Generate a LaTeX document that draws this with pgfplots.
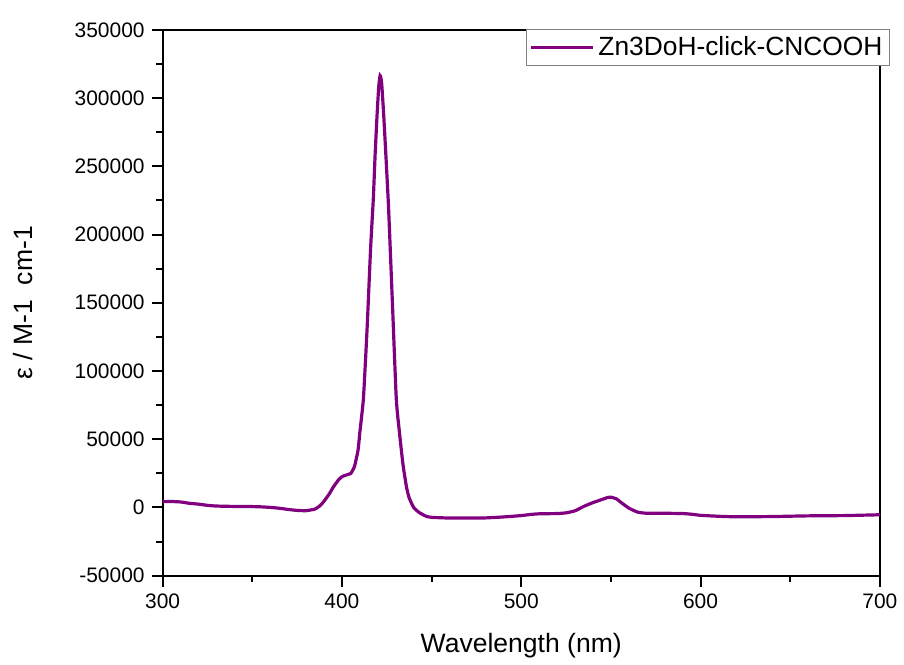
\documentclass[border=0pt]{standalone}
\usepackage{fontspec}
\setmainfont{Liberation Sans}
\usepackage{pgfplots}
\pgfplotsset{compat=1.18}
\definecolor{spec}{RGB}{128,0,128}

\begin{document}
\begin{tikzpicture}
\begin{axis}[
    scale only axis,
    width=359.5pt,
    height=273.5pt,
    xmin=300, xmax=700,
    ymin=-50000, ymax=350000,
    xtick={300,400,...,700},
    ytick={-50000,0,...,350000},
    minor x tick num=1,
    minor y tick num=1,
    tick pos=left,
    tick align=outside,
    major tick length=5.5pt,
    minor tick length=3.2pt,
    every tick/.style={black, line width=1pt},
    axis line style={line width=1.1pt},
    scaled ticks=false,
    xticklabel={\pgfmathprintnumber[fixed,1000 sep={},assume math mode=true]{\tick}},
    yticklabel={\pgfmathprintnumber[fixed,1000 sep={},assume math mode=true]{\tick}},
    tick label style={font=\fontsize{10.5pt}{12pt}\selectfont},
    xlabel={Wavelength (nm)},
    ylabel={ε / M-1\ \ cm-1},
    label style={font=\fontsize{13.3pt}{15pt}\selectfont},
    xlabel style={at={(axis description cs:0.5,-0.128)}, anchor=center},
    ylabel style={at={(axis description cs:-0.195,0.5)}, anchor=center},
    legend style={at={(axis description cs:1.0139,1.002)}, anchor=north east,
        draw=gray, line width=0.5pt, font=\fontsize{13.2pt}{15pt}\selectfont,
        inner sep=1.5pt},
    legend image code/.code={\draw[#1] (0cm,0cm) -- (31pt,0cm);},
]
\addplot[spec, line width=1.6pt, smooth, tension=0.3] coordinates {
(300,4200) (305,4300) (310,4000) (315,3000) (320,2400) (325,1500)
(330,1000) (340,700) (350,600) (355,400) (360,0) (365,-600)
(370,-1500) (375,-2200) (380,-2400) (385,-1200) (388,1500) (390,4500)
(393,10000) (395,14500) (398,20000) (400,22500) (403,24000) (405,25000)
(407,30000) (409,42000) (410,55000) (412,80000) (414,130000) (416,190000)
(417.5,226000) (418.5,258000) (419.5,285000) (420.5,308000) (421.3,316500)
(422.1,312000) (423.2,290000) (424.4,261000) (426,220000) (428,155000)
(430.3,80000) (432,56000)
(434,32000) (436,15000) (437.5,7000) (440,0) (443,-3700) (447,-6500)
(450,-7300) (460,-7800) (470,-7800) (480,-7700) (490,-7000) (500,-6000)
(505,-5200) (510,-4700) (520,-4500) (525,-4000) (530,-2500) (535,800)
(540,3500) (545,5800) (548,7200) (550,7500) (553,6300) (556,3300)
(560,-500) (565,-3500) (570,-4300) (580,-4300) (590,-4500) (595,-5000)
(600,-5800) (610,-6500) (620,-6900) (640,-6700) (660,-6200) (680,-6000)
(700,-5400)
};
\addlegendentry{Zn3DoH-click-CNCOOH}
\end{axis}
\path (-81.5pt,-44.5pt) rectangle (370.5pt,288.5pt);
\end{tikzpicture}
\end{document}
